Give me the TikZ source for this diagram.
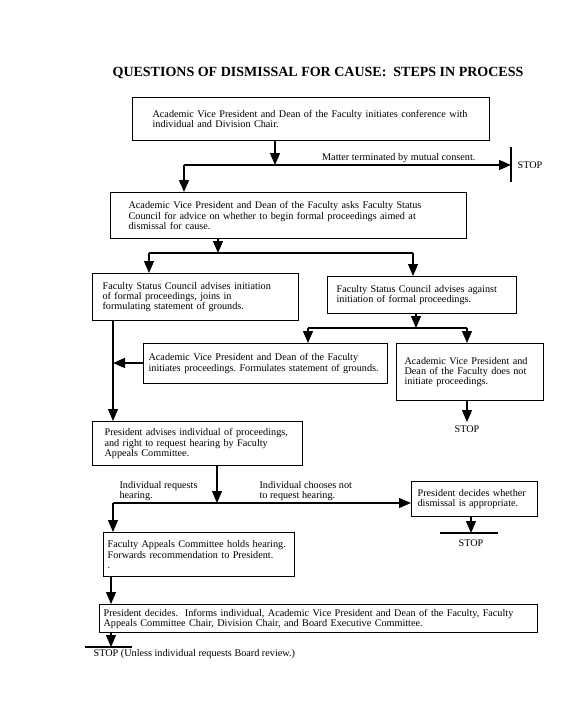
\documentclass[tikz,border=0pt]{standalone}
\usepackage{fontspec}
\setmainfont{Liberation Serif}
\usetikzlibrary{arrows.meta,positioning}
\frenchspacing

\begin{document}
\begin{tikzpicture}[x=1pt, y=-1pt, line width=1.2pt,
  >={Triangle[length=12pt,width=10pt]},
  stepbox/.style={draw, anchor=north west, align=left, inner ysep=2pt,
    font=\fontsize{10.2}{10.2}\selectfont},
  note/.style={inner sep=0pt, align=left, font=\fontsize{10.2}{10.2}\selectfont}]

\useasboundingbox (0,0) rectangle (563,728);

\node (title) [inner sep=0pt, font=\bfseries\fontsize{14}{14}\selectfont] at (318,73)
  {QUESTIONS OF DISMISSAL FOR CAUSE:\ \ STEPS IN PROCESS};

% boxes, top to bottom
\node (confer) [stepbox, inner xsep=20pt, text width=317pt, minimum height=43pt] at (132,97)
  {Academic Vice President and Dean of the Faculty initiates conference with\\
   individual and Division Chair.};
\node (askfsc) [stepbox, inner xsep=18pt, text width=320pt, minimum height=46pt] at (110,192)
  {Academic Vice President and Dean of the Faculty asks Faculty Status\\
   Council for advice on whether to begin formal proceedings aimed at\\
   dismissal for cause.};
\node (fscfor) [stepbox, inner xsep=10pt, text width=186pt, minimum height=47pt] at (92,273)
  {Faculty Status Council advises initiation\\
   of formal proceedings, joins in\\
   formulating statement of grounds.};
\node (fscagainst) [stepbox, inner xsep=9pt, text width=171pt, minimum height=37pt] at (327,276)
  {Faculty Status Council advises against\\
   initiation of formal proceedings.};
\node (avpinit) [stepbox, inner xsep=5pt, text width=234pt, minimum height=40pt] at (143,343)
  {Academic Vice President and Dean of the Faculty\\
   initiates proceedings. Formulates statement of grounds.};
\node (avpnot) [stepbox, inner xsep=8pt, text width=131pt, minimum height=57pt] at (396,343)
  {Academic Vice President and\\
   Dean of the Faculty does not\\
   initiate proceedings.};
\node (presadv) [stepbox, inner xsep=12pt, text width=186pt, minimum height=44pt] at (92,421)
  {President advises individual of proceedings,\\
   and right to request hearing by Faculty\\
   Appeals Committee.};
\node (presdecide) [stepbox, inner xsep=6pt, text width=114pt, minimum height=35pt] at (411,481)
  {President decides whether\\
   dismissal is appropriate.};
\node (fachear) [stepbox, inner xsep=4pt, text width=183pt, minimum height=44pt] at (103,532)
  {Faculty Appeals Committee holds hearing.\\
   Forwards recommendation to President.\\
   .};
\node (presfinal) [stepbox, inner xsep=4pt, text width=430pt, minimum height=28pt] at (99,604)
  {President decides.\ \ Informs individual, Academic Vice President and Dean of the Faculty, Faculty\\
   Appeals Committee Chair, Division Chair, and Board Executive Committee.};

% junctions and stop marks
\coordinate (j1) at (275,165);
\coordinate (j1l) at (184,165);
\coordinate (stop1) at (511,165);
\coordinate (j2) at (218,253);
\coordinate (j2l) at (149,253);
\coordinate (j2r) at (413,253);
\coordinate (j3) at (416,328);
\coordinate (j3l) at (308,328);
\coordinate (j3r) at (467,328);
\coordinate (stop2) at (467,422);
\coordinate (spine) at (113,363);
\coordinate (j4) at (217,503);
\coordinate (j4l) at (113,503);
\coordinate (stop3) at (471,533);
\coordinate (stop4) at (111,647);

% labels
\node (mutual) [note, anchor=base east] at (476,160) {Matter terminated by mutual consent.};
\node (stoptxt1) [note, right=6pt of stop1] {STOP};
\node (stoptxt2) [note, anchor=north] at (467,425) {STOP};
\node (requests) [note, anchor=south west] at (119,501) {Individual requests\\ hearing.};
\node (declines) [note, anchor=south west] at (259,501) {Individual chooses not\\ to request hearing.};
\node (stoptxt3) [note, anchor=north] at (471,539) {STOP};
\node (stoptxt4) [note, anchor=north west] at (93,649) {STOP (Unless individual requests Board review.)};

% connectors
\draw[->] (confer.south -| j1) -- (j1);
\draw[->] (j1l) -- (stop1);
\draw ([yshift=18pt]stop1) -- ([yshift=-17pt]stop1);
\draw[->] (j1l) -- (askfsc.north -| j1l);

\draw[->] (askfsc.south -| j2) -- (j2);
\draw (j2l) -- (j2r);
\draw[->] (j2l) -- (fscfor.north -| j2l);
\draw[->] (j2r) -- (fscagainst.north -| j2r);

\draw[->] (fscagainst.south -| j3) -- (j3);
\draw (j3l) -- (j3r);
\draw[->] (j3l) -- (avpinit.north -| j3l);
\draw[->] (j3r) -- (avpnot.north -| j3r);
\draw[->] (avpnot.south -| stop2) -- (stop2);

\draw[->] (fscfor.south -| spine) -- (presadv.north -| spine);
\draw[->] (avpinit.west |- spine) -- (spine);

\draw[->] (presadv.south -| j4) -- (j4);
\draw[->] (j4l) -- (presdecide.west |- j4l);
\draw[->] (j4l) -- (fachear.north -| j4l);
\draw[->] (presdecide.south -| stop3) -- (stop3);
\draw ([xshift=-31pt]stop3) -- ([xshift=27pt]stop3);

\draw[->] (fachear.south -| stop4) -- (presfinal.north -| stop4);
\draw[->] (presfinal.south -| stop4) -- (stop4);
\draw ([xshift=-26pt]stop4) -- ([xshift=21pt]stop4);

\end{tikzpicture}
\end{document}
